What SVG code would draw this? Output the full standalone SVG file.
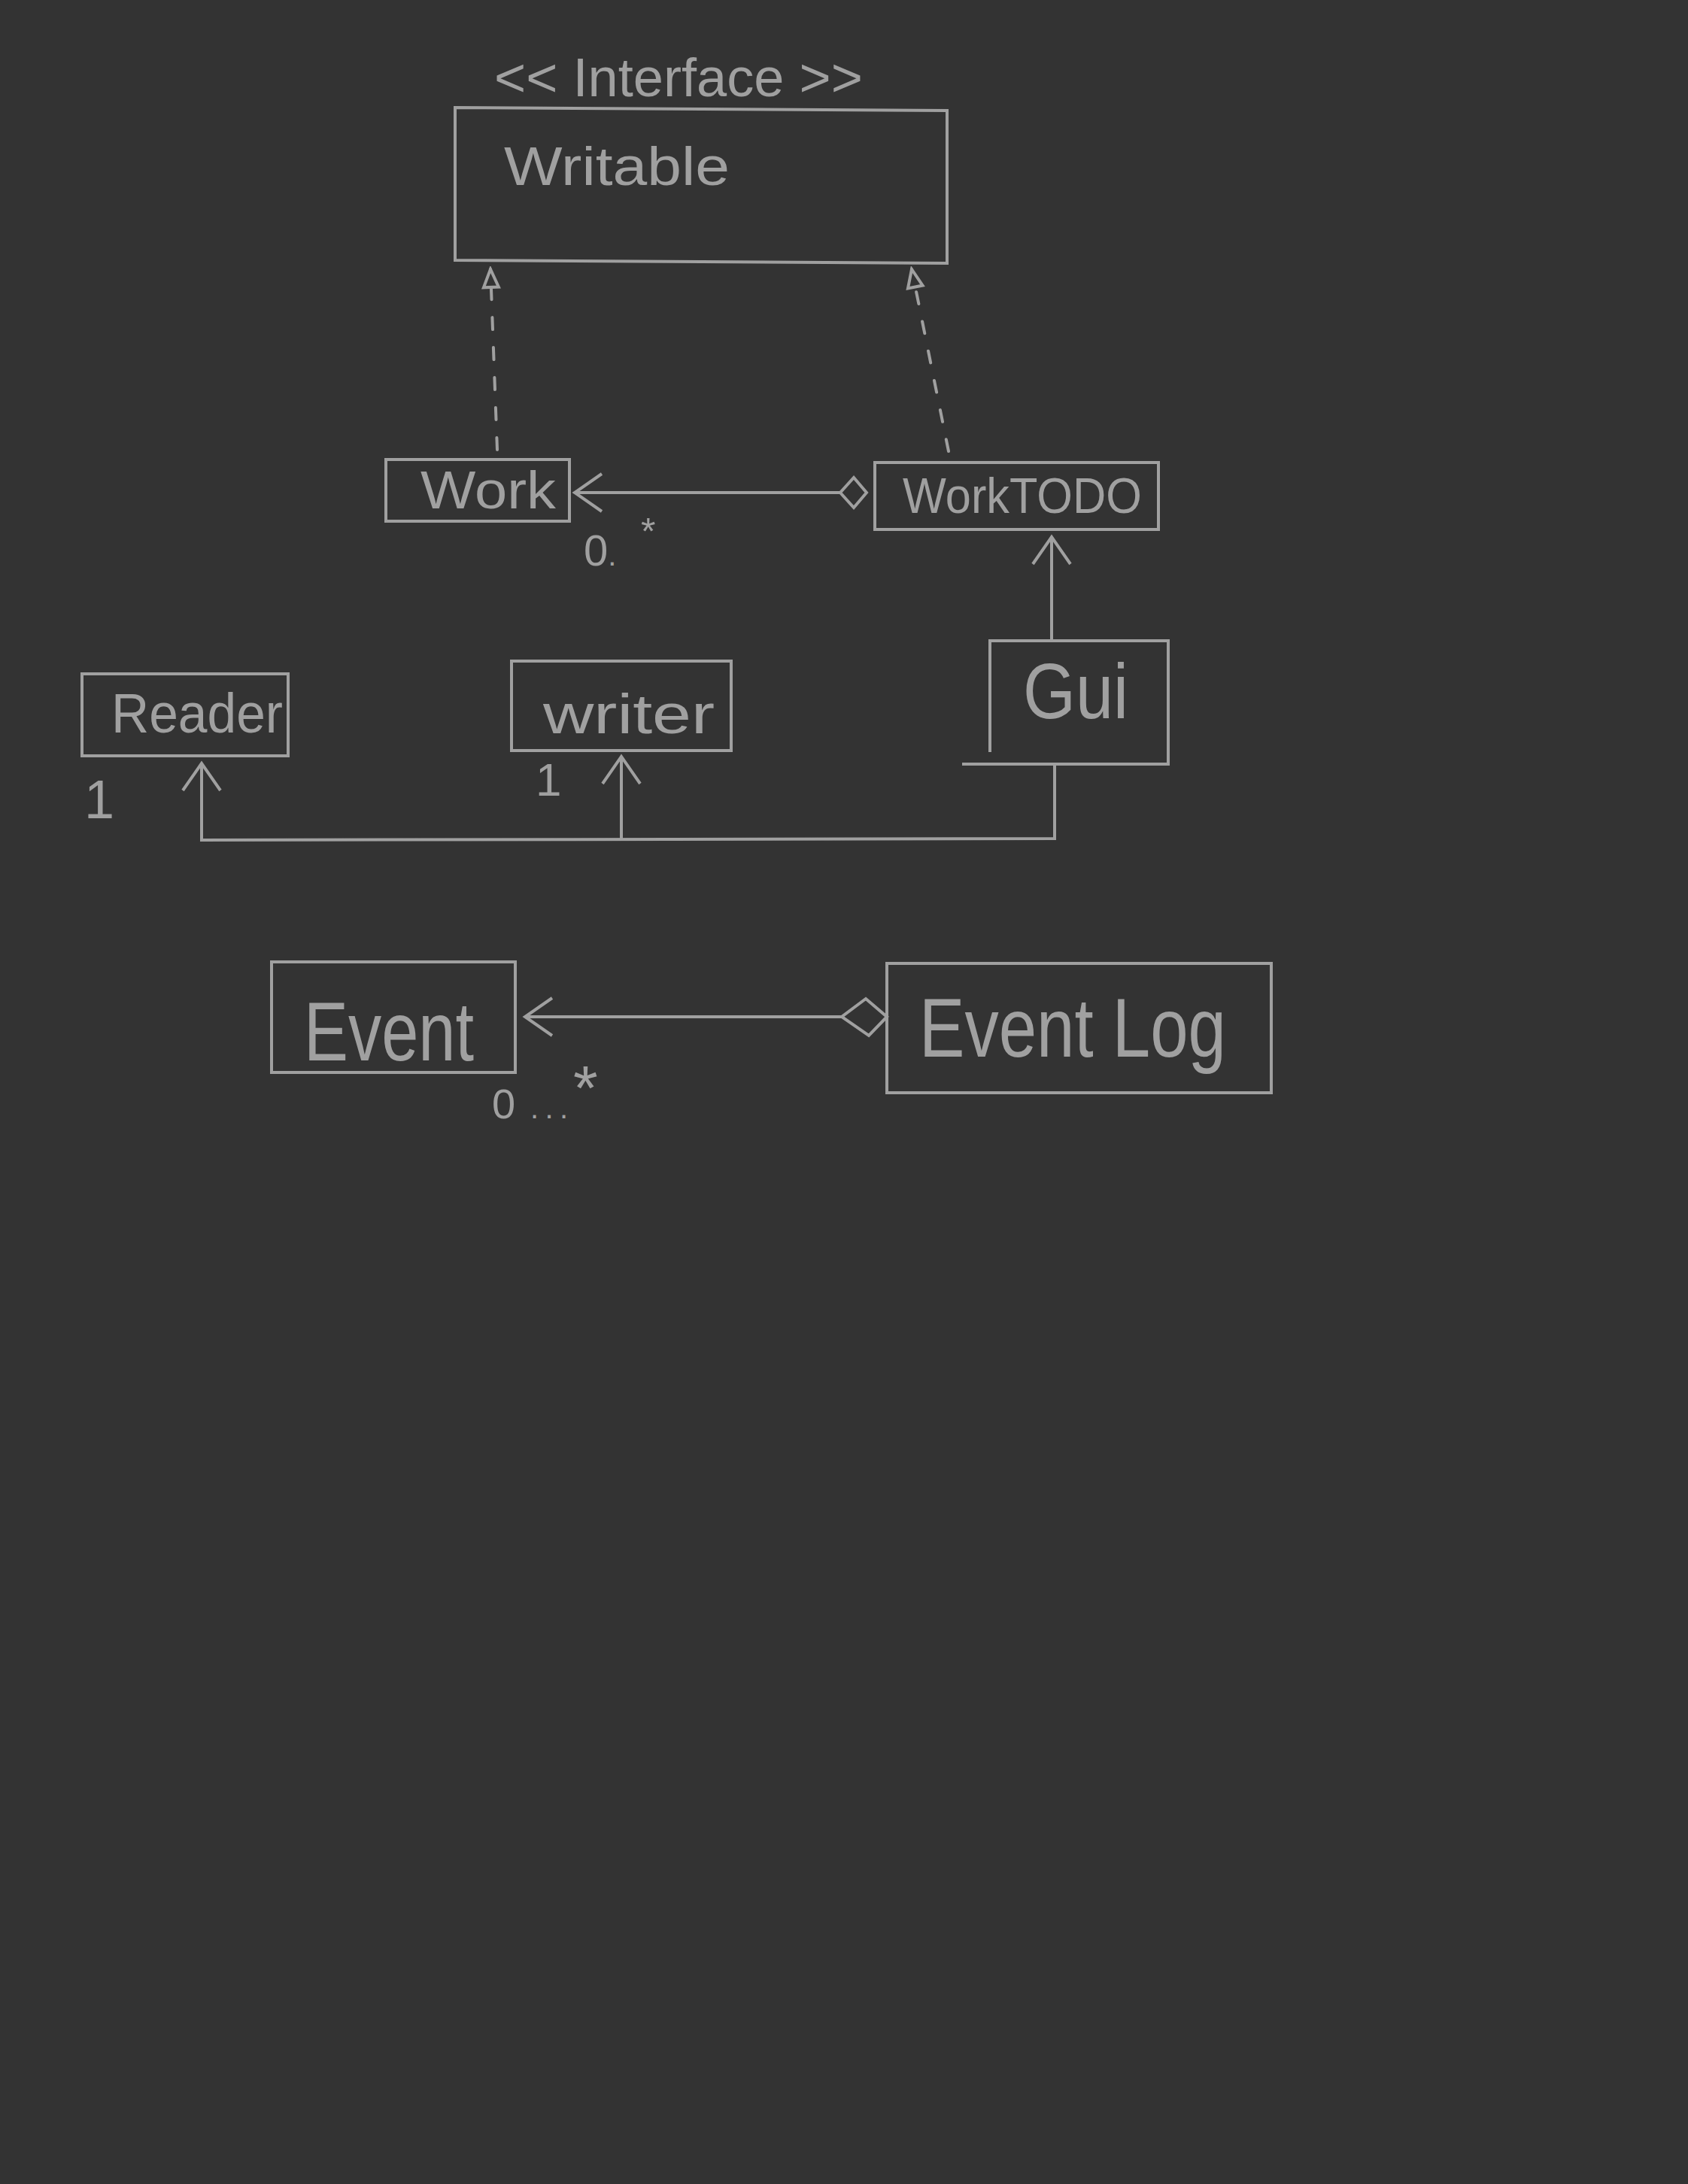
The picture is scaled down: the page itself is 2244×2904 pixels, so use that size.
<svg xmlns="http://www.w3.org/2000/svg" width="2244" height="2904" viewBox="0 0 2244 2904">
<style>
.box{fill:none;stroke:#a0a0a0;stroke-width:4;stroke-linejoin:miter}
.ln{fill:none;stroke:#a0a0a0;stroke-width:4}
.dash{fill:none;stroke:#a0a0a0;stroke-width:4;stroke-dasharray:16 24;stroke-linecap:round}
.t{fill:#a0a0a0;font-family:"Liberation Sans","DejaVu Sans",sans-serif}
</style>
<defs>
<marker id="open" viewBox="-42 -30 46 60" refX="0" refY="0" markerWidth="46" markerHeight="60" markerUnits="userSpaceOnUse" orient="auto">
<path d="M -36 -25 L 0 0 L -36 25" fill="none" stroke="#a0a0a0" stroke-width="4"/>
</marker>
<marker id="tri" viewBox="-30 -14 34 28" refX="0" refY="0" markerWidth="34" markerHeight="28" markerUnits="userSpaceOnUse" orient="auto">
<path d="M -24 -10 L 0 0 L -24 10 Z" fill="#333333" stroke="#a0a0a0" stroke-width="4"/>
</marker>
<marker id="diaS" viewBox="-4 -24 44 48" refX="0" refY="0" markerWidth="44" markerHeight="48" markerUnits="userSpaceOnUse" orient="auto">
<path d="M 0 0 L 17 -20 L 35 0 L 17 20 Z" fill="#333333" stroke="#a0a0a0" stroke-width="4"/>
</marker>
<marker id="diaL" viewBox="-4 -30 70 60" refX="0" refY="0" markerWidth="70" markerHeight="60" markerUnits="userSpaceOnUse" orient="auto">
<path d="M 0 0 L 24 -25 L 60 0 L 28 24 Z" fill="#333333" stroke="#a0a0a0" stroke-width="4"/>
</marker>
</defs>
<rect x="0" y="0" width="2244" height="2904" fill="#333333"/>

<g id="connectors">
<path class="dash" d="M 661 598 L 652 358" marker-end="url(#tri)"/>
<path class="dash" d="M 1261 600 L 1212 358" marker-end="url(#tri)"/>
<path class="ln" d="M 1152 655 L 764 655" marker-start="url(#diaS)" marker-end="url(#open)"/>
<path class="ln" d="M 1398 852 L 1398 714" marker-end="url(#open)"/>
<path class="ln" d="M 1402 1016 L 1402 1115 L 268 1117 L 268 1015" marker-end="url(#open)"/>
<path class="ln" d="M 826 1116 L 826 1006" marker-end="url(#open)"/>
<path class="ln" d="M 1179 1352 L 698 1352" marker-start="url(#diaL)" marker-end="url(#open)"/>
<text class="t" x="776" y="752" font-size="58">0<tspan font-size="40">.</tspan><tspan x="852" y="724" font-size="50">*</tspan></text>
<text class="t" x="112" y="1088" font-size="72">1</text>
<text class="t" x="712" y="1058" font-size="62">1</text>
<text class="t" x="654" y="1487" font-size="56">0<tspan x="705" font-size="40" textLength="50" lengthAdjust="spacing">...</tspan><tspan x="762" y="1476" font-size="84">*</tspan></text>
</g>

<g id="writable">
<text class="t" x="657" y="128" font-size="72" textLength="490" lengthAdjust="spacingAndGlyphs">&lt;&lt; Interface &gt;&gt;</text>
<polygon class="box" points="605,143 1259,147 1259,350 605,346"/>
<text class="t" x="670" y="246" font-size="72" textLength="300" lengthAdjust="spacingAndGlyphs">Writable</text>
</g>

<g id="work">
<rect class="box" x="513" y="611" width="244" height="82"/>
<text class="t" x="559" y="676" font-size="70" textLength="180" lengthAdjust="spacingAndGlyphs">Work</text>
</g>

<g id="worktodo">
<rect class="box" x="1163" y="615" width="377" height="89"/>
<text class="t" x="1200" y="682" font-size="66" textLength="318" lengthAdjust="spacingAndGlyphs">WorkTODO</text>
</g>

<g id="gui">
<path class="box" d="M 1316 1000 L 1316 852 L 1553 852 L 1553 1016 L 1279 1016"/>
<text class="t" x="1360" y="955" font-size="104" textLength="140" lengthAdjust="spacingAndGlyphs">Gui</text>
</g>

<g id="reader">
<rect class="box" x="109" y="896" width="274" height="109"/>
<text class="t" x="148" y="974" font-size="74" textLength="228" lengthAdjust="spacingAndGlyphs">Reader</text>
</g>

<g id="writer">
<rect class="box" x="680" y="879" width="292" height="119"/>
<text class="t" x="722" y="975" font-size="74" textLength="228" lengthAdjust="spacingAndGlyphs">writer</text>
</g>

<g id="event">
<rect class="box" x="361" y="1279" width="324" height="147"/>
<text class="t" x="404" y="1410" font-size="112" textLength="226" lengthAdjust="spacingAndGlyphs">Event</text>
</g>

<g id="eventlog">
<rect class="box" x="1179" y="1281" width="511" height="172"/>
<text class="t" x="1222" y="1405" font-size="112" textLength="408" lengthAdjust="spacingAndGlyphs">Event Log</text>
</g>
</svg>
